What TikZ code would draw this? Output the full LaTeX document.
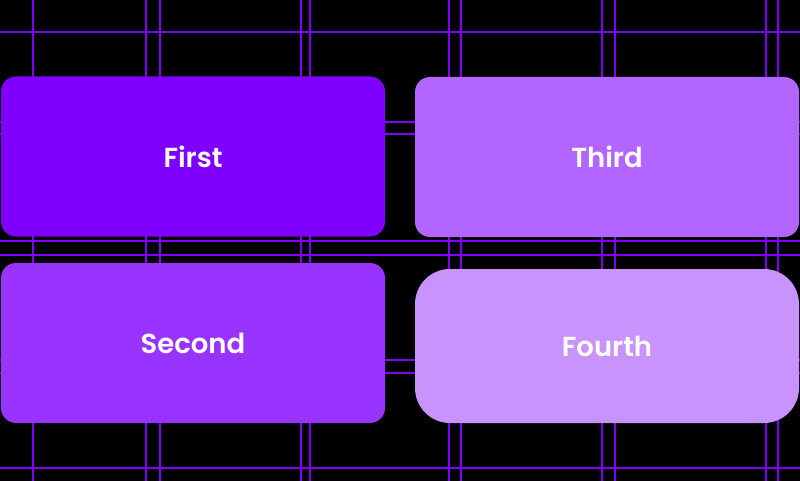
\documentclass[tikz,border=0pt]{standalone}
\usepackage{fontspec}
\setmainfont{Poppins}[BoldFont={Poppins SemiBold}]
\usepackage{xcolor}
\usepackage{tikz}
\definecolor{gridline}{HTML}{7F00FF}
\definecolor{firstcol}{HTML}{7F00FF}
\definecolor{secondcol}{HTML}{9933FF}
\definecolor{thirdcol}{HTML}{B266FF}
\definecolor{fourthcol}{HTML}{C893FC}

\begin{document}
\begin{tikzpicture}
 [x=1pt, y=-1pt,
  guide/.style={draw=gridline, line width=1.6pt},
  tile/.style={rectangle, rounded corners=15pt, inner sep=0pt,
               minimum width=384pt, minimum height=160pt,
               text=white, font=\bfseries\fontsize{27.5}{32}\selectfont},
  roundtile/.style={tile, rounded corners=35pt, minimum height=154pt}]
 \fill[black] (0,0) rectangle (800,481);
 \useasboundingbox (0,0) rectangle (800,481);

 % guide lines behind the tiles
 \foreach \gx in {33,146,160,301,310,449,461,602,615,766,778}
   \draw[guide] (\gx,0) -- (\gx,481);
 \foreach \gy in {32,122,134,241,255,360,373,468}
   \draw[guide] (0,\gy) -- (800,\gy);

 \node[tile, fill=firstcol]       (first)  at (193,156.5) {First};
 \node[tile, fill=thirdcol]       (third)  at (607,157)   {Third};
 \node[tile, fill=secondcol]      (second) at (193,343)   {Second};
 \node[roundtile, fill=fourthcol] (fourth) at (607,346)   {Fourth};
\end{tikzpicture}
\end{document}
